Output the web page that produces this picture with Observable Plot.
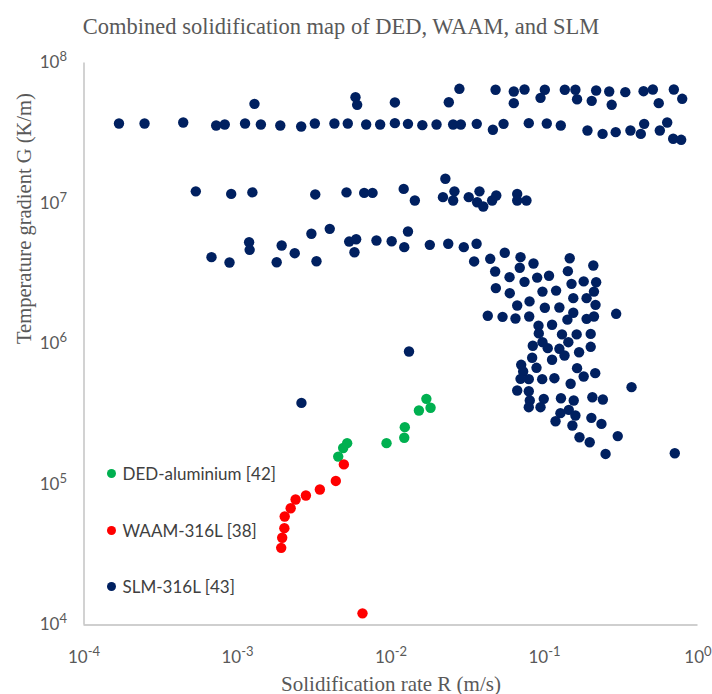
<!DOCTYPE html>
<html><head><meta charset="utf-8">
<script src="https://cdn.jsdelivr.net/npm/d3@7"></script>
<script src="https://cdn.jsdelivr.net/npm/@observablehq/plot@0.6"></script>
<style>
html,body{margin:0;padding:0;background:#fff;}
#wrap{position:relative;width:712px;height:694px;}
.leg{position:absolute;left:107px;height:24px;display:flex;align-items:center;font-family:Lato,"Open Sans",sans-serif;font-size:17px;color:#404040;white-space:nowrap;}
.leg .sw{display:inline-block;width:9px;height:9px;border-radius:50%;margin-right:6.5px;}
</style></head>
<body><div id="wrap"></div>
<script>
// ---- text ----
const chartTitle = "Combined solidification map of DED, WAAM, and SLM";
const xTitle = "Solidification rate R (m/s)";
const yTitle = "Temperature gradient G (K/m)";
const seriesNames = ["DED-aluminium [42]", "WAAM-316L [38]", "SLM-316L [43]"];
const seriesColors = ["#00b050", "#ff0000", "#002060"];
const xTicks = [1e-4, 1e-3, 1e-2, 1e-1, 1];
const yTicks = [1e4, 1e5, 1e6, 1e7, 1e8];

// ---- data: [R (m/s), G (K/m)] ----
const ded = [[4.53e-3,1.58e5],[4.88e-3,1.82e5],[5.18e-3,1.97e5],[9.35e-3,1.97e5],[1.22e-2,2.15e5],
  [1.23e-2,2.56e5],[1.52e-2,3.36e5],[1.70e-2,4.07e5],[1.81e-2,3.52e5]];

const waam = [[4.93e-3,1.39e5],[4.37e-3,1.06e5],[3.44e-3,9.21e4],[2.79e-3,8.35e4],[2.39e-3,7.82e4],
  [2.22e-3,6.78e4],[2.03e-3,5.92e4],[2.02e-3,4.89e4],[1.955e-3,4.18e4],[1.926e-3,3.54e4],[6.52e-3,1.21e4]];

const slmTop = [[1.69e-4,3.71e7],[2.48e-4,3.71e7],[4.43e-4,3.77e7],[7.26e-4,3.59e7],[8.26e-4,3.65e7],
  [1.12e-3,3.71e7],[1.42e-3,3.65e7],[1.90e-3,3.59e7],[2.60e-3,3.53e7],[3.19e-3,3.71e7],[4.28e-3,3.71e7],
  [5.23e-3,3.71e7],[6.89e-3,3.65e7],[8.50e-3,3.65e7],[1.29e-3,5.12e7],[5.87e-3,5.71e7],[6.02e-3,5.04e7],
  [2.79e-2,6.55e7],[4.80e-2,6.45e7],[6.31e-2,6.27e7],[7.41e-2,6.48e7],[0.1005,6.45e7],[9.42e-2,5.65e7],
  [0.1356,6.45e7],[0.159,6.45e7],[0.163,5.52e7],[0.217,6.37e7],[0.203,5.38e7],[0.264,6.27e7],[0.274,5.04e7],
  [0.336,6.20e7],[0.442,6.30e7],[0.508,6.48e7],[0.555,5.18e7],[0.696,6.48e7],[0.789,5.56e7],[6.31e-2,5.18e7],
  [2.38e-2,5.26e7],[1.06e-2,5.24e7],[1.06e-2,3.73e7],[1.29e-2,3.69e7],[1.60e-2,3.61e7],[1.98e-2,3.65e7],
  [2.54e-2,3.65e7],[2.85e-2,3.65e7],[3.62e-2,3.69e7],[4.61e-2,3.35e7],[5.41e-2,3.69e7],[7.90e-2,3.73e7],
  [0.1035,3.71e7],[0.1277,3.59e7],[0.1905,3.31e7],[0.239,3.13e7],[0.291,3.22e7],[0.363,3.31e7],[0.424,3.13e7],
  [0.446,3.69e7],[0.564,3.31e7],[0.630,3.77e7],[0.689,2.89e7],[0.777,2.84e7]];

const slmMid = [[5.35e-4,1.22e7],[9.10e-4,1.17e7],[1.25e-3,1.20e7],[3.21e-3,1.16e7],[5.13e-3,1.20e7],
  [6.69e-3,1.19e7],[7.58e-3,1.19e7],[1.21e-2,1.27e7],[1.43e-2,1.05e7],[2.26e-2,1.50e7],[2.18e-2,1.11e7],
  [2.59e-2,1.22e7],[2.54e-2,1.05e7],[3.21e-2,1.11e7],[3.77e-2,1.22e7],[3.64e-2,1.02e7],[3.99e-2,9.52e6],
  [4.56e-2,1.05e7],[4.85e-2,1.14e7],[6.64e-2,1.17e7],[6.64e-2,1.05e7],[7.63e-2,1.05e7]];

const slmLow = [[6.77e-4,4.15e6],[8.87e-4,3.80e6],[1.19e-3,5.30e6],[1.20e-3,4.68e6],[1.80e-3,3.82e6],
  [1.94e-3,5.02e6],[2.36e-3,4.43e6],[3.03e-3,6.09e6],[3.27e-3,3.88e6],[3.99e-3,6.60e6],[5.34e-3,5.36e6],
  [5.93e-3,5.57e6],[5.78e-3,4.50e6],[8.04e-3,5.45e6],[1.01e-2,5.39e6],[1.29e-2,6.32e6],[1.22e-2,4.89e6],
  [1.79e-2,5.08e6],[2.36e-2,5.17e6],[2.98e-2,4.89e6],[3.61e-2,5.17e6]];

const slmCluster = [[3.48e-2,3.87e6],[4.43e-2,4.04e6],[5.51e-2,4.46e6],[6.98e-2,4.15e6],[6.90e-2,3.49e6],
  [8.48e-2,3.74e6],[4.77e-2,3.28e6],[5.92e-2,2.99e6],[7.41e-2,2.77e6],[8.96e-2,2.97e6],[0.107,3.06e6],
  [0.146,4.08e6],[0.142,3.30e6],[0.208,3.62e6],[4.82e-2,2.50e6],[5.94e-2,2.30e6],[9.70e-2,2.36e6],
  [0.119,2.40e6],[0.150,2.68e6],[0.180,2.79e6],[0.217,2.75e6],[0.210,2.36e6],[0.154,2.12e6],[0.188,2.12e6],
  [6.64e-2,1.88e6],[7.99e-2,2.01e6],[0.1005,1.81e6],[0.125,1.82e6],[0.215,1.90e6],[0.154,1.67e6],
  [0.141,1.49e6],[0.188,1.51e6],[0.210,1.57e6],[4.27e-2,1.59e6],[5.33e-2,1.56e6],[6.47e-2,1.52e6],
  [7.95e-2,1.57e6],[0.293,1.64e6],[9.14e-2,1.35e6],[0.112,1.37e6],[9.18e-2,1.19e6],[0.130,1.17e6],
  [0.162,1.17e6],[0.200,1.18e6],[9.70e-2,1.03e6],[8.39e-2,9.71e5],[0.105,9.34e5],[0.125,9.24e5],
  [0.143,1.03e6],[0.135,8.28e5],[0.168,8.74e5],[0.200,9.55e5],[8.31e-2,7.98e5],[0.112,7.72e5],
  [7.05e-2,7.11e5],[8.87e-2,6.77e5],[7.26e-2,6.37e5],[6.98e-2,5.65e5],[7.90e-2,5.62e5],[9.66e-2,5.62e5],
  [0.116,5.71e5],[0.163,6.73e5],[0.180,5.87e5],[0.214,6.20e5],[0.148,5.21e5],[6.64e-2,4.67e5],
  [7.90e-2,4.61e5],[8.02e-2,3.96e5],[9.89e-2,4.07e5],[0.128,4.11e5],[0.155,3.96e5],[0.205,4.18e5],
  [0.240,4.03e5],[0.369,4.93e5],[7.90e-2,3.55e5],[9.42e-2,3.55e5],[0.127,3.22e5],[0.144,3.40e5],
  [0.159,3.10e5],[0.118,2.82e5],[0.152,2.63e5],[0.202,2.98e5],[0.235,2.70e5],[0.169,2.17e5],
  [0.197,2.00e5],[0.300,2.21e5],[0.250,1.65e5],[0.706,1.67e5],[1.31e-2,8.84e5],[2.61e-3,3.81e5]];

const slm = [...slmTop, ...slmMid, ...slmLow, ...slmCluster];

const axisColor = "#bfbfbf";
const textColor = "#595959";
const serif = "'Liberation Serif','Times New Roman',serif";

const chart = Plot.plot({
  width: 712, height: 694,
  marginLeft: 83.5, marginRight: 14.5, marginTop: 62.5, marginBottom: 69.5,
  x: {type: "log", domain: [1e-4, 1]},
  y: {type: "log", domain: [1e4, 1e8]},
  style: {fontFamily: "Lato, 'Open Sans', sans-serif", color: textColor, background: "white", overflow: "visible"},
  marks: [
    Plot.ruleX([xTicks[0]], {stroke: axisColor, strokeWidth: 1.4}),
    Plot.ruleY([yTicks[0]], {stroke: axisColor, strokeWidth: 1.4}),
    Plot.axisX(xTicks, {tickSize: 0, tickPadding: 26, fontSize: 17, label: null,
      tickFormat: d => String(Math.round(Math.log10(d)))}),
    Plot.axisY(yTicks, {tickSize: 0, tickPadding: 17, fontSize: 17, label: null,
      tickFormat: d => String(Math.round(Math.log10(d)))}),
    Plot.dot(ded, {x: d => d[0], y: d => d[1], r: 5.2, fill: seriesColors[0]}),
    Plot.dot(waam, {x: d => d[0], y: d => d[1], r: 5.2, fill: seriesColors[1]}),
    Plot.dot(slm, {x: d => d[0], y: d => d[1], r: 5.2, fill: seriesColors[2]}),
    Plot.text([chartTitle], {text: d => d, frameAnchor: "top", dx: -50, dy: -29, lineAnchor: "bottom",
      fontFamily: serif, fontSize: 22.5, fill: textColor}),
    Plot.text([xTitle], {text: d => d, frameAnchor: "bottom", dy: 65.5, lineAnchor: "bottom",
      fontFamily: serif, fontSize: 21, fill: textColor}),
    Plot.text([yTitle], {text: d => d, frameAnchor: "left", dx: -53.5, rotate: -90, lineAnchor: "bottom",
      fontFamily: serif, fontSize: 20.5, fill: textColor})
  ]
});

// superscript exponents on the tick labels: 10^n
d3.select(chart).selectAll('g[aria-label="x-axis tick label"] text, g[aria-label="y-axis tick label"] text')
  .each(function() {
    const exp = this.textContent;
    const t = d3.select(this);
    t.text(null);
    t.append("tspan").text("10");
    t.append("tspan").attr("font-size", 13).attr("dy", -7).text(exp);
  });

const wrap = document.getElementById("wrap");
wrap.appendChild(chart);

// legend
const legendCenters = [473.3, 530, 586];
seriesNames.forEach((name, i) => {
  const div = document.createElement("div");
  div.className = "leg";
  div.style.top = (legendCenters[i] - 12) + "px";
  const sw = document.createElement("span");
  sw.className = "sw";
  sw.style.background = seriesColors[i];
  div.appendChild(sw);
  div.appendChild(document.createTextNode(name));
  wrap.appendChild(div);
});
</script>
</body></html>
